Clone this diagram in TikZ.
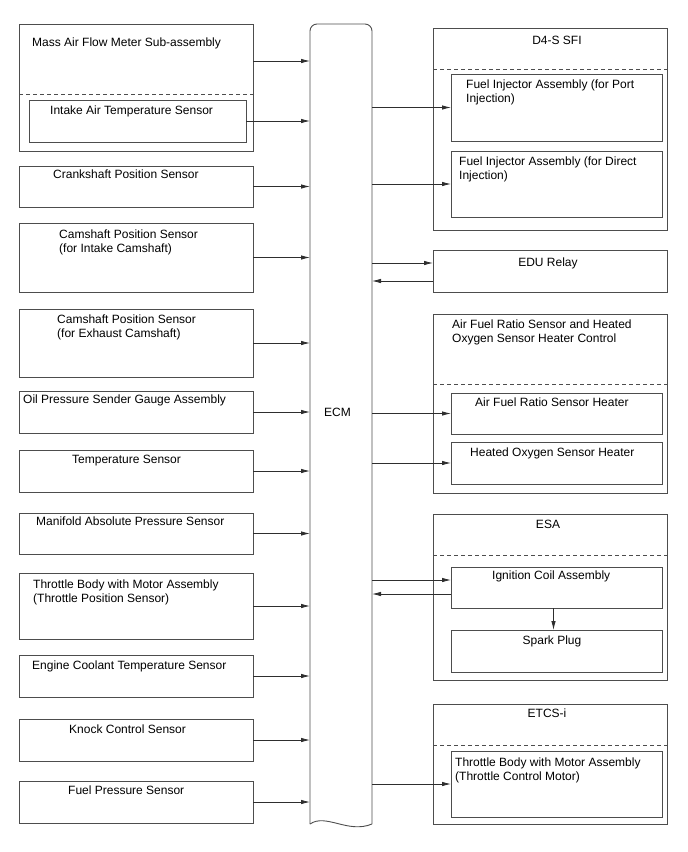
\documentclass[tikz,border=0pt]{standalone}
\usepackage{fontspec}
\setmainfont{Liberation Sans}
\usepackage{xcolor}
\usetikzlibrary{calc,arrows.meta}
\definecolor{FrameGray}{HTML}{4D4D4D}
\definecolor{WireGray}{HTML}{2E2E2E}
\newcommand{\partbox}[5]{%
    \node[partbox, minimum width={(#4-#2)*1pt}, minimum height={(#5-#3)*1pt}]
        (#1) at ({(#2+#4)/2},{(#3+#5)/2}) {};%
}

\begin{document}
\begin{tikzpicture}[x=1pt, y=-1pt,
        partbox/.style={draw=FrameGray, line width=0.9pt, inner sep=0pt, outer sep=0pt},
        partlabel/.style={font=\fontsize{12}{14}\selectfont, inner sep=0pt, align=left, anchor=base west},
        sepline/.style={draw=FrameGray, line width=0.9pt, dash pattern=on 4pt off 3pt},
        sig/.style={draw=WireGray, line width=0.8pt, -{Latex[length=9pt, width=4.5pt]}}]
        \path[use as bounding box] (0,0) rectangle (688,852);

        % ECM
        \node[inner sep=0pt, outer sep=0pt, minimum width=62pt, minimum height=800pt] (ecm) at (341,424) {};
        \draw[draw=FrameGray, line width=0.9pt, rounded corners=7pt] (ecm.south west) -- (ecm.north west) -- (ecm.north east) -- (ecm.south east);
        \draw[draw=FrameGray, line width=0.9pt] (ecm.south east) .. controls +(-24,10) and +(16,-11) .. (ecm.south west);
        \node[partlabel, anchor=base] (ecm-t) at (337.5,416) {ECM};

        % inputs
        \partbox{maf}{19}{24}{253}{151}
        \node[partlabel] (maf-t) at (32,46) {Mass Air Flow Meter Sub-assembly};
        \draw[sepline] (maf.west |- 0,94) -- (maf.east |- 0,94);
        \partbox{iat}{29}{100}{246}{142}
        \node[partlabel] (iat-t) at (50,114.5) {Intake Air Temperature Sensor};
        \coordinate (maf-out) at (253,61);

        \partbox{cks}{19}{166}{253}{207}
        \node[partlabel] (cks-t) at (53,178.5) {Crankshaft Position Sensor};
        \partbox{cmi}{19}{223}{253}{292}
        \node[partlabel] (cmi-t) at (59,252.5) {Camshaft Position Sensor\\(for Intake Camshaft)};
        \partbox{cme}{19}{309}{253}{377}
        \node[partlabel] (cme-t) at (57,337.5) {Camshaft Position Sensor\\(for Exhaust Camshaft)};
        \partbox{ops}{19}{391}{253}{433}
        \node[partlabel] (ops-t) at (23,403.5) {Oil Pressure Sender Gauge Assembly};
        \partbox{tmp}{19}{450}{253}{492}
        \node[partlabel] (tmp-t) at (72,463.5) {Temperature Sensor};
        \partbox{map}{19}{513}{253}{554}
        \node[partlabel] (map-t) at (36,525.5) {Manifold Absolute Pressure Sensor};
        \partbox{tps}{19}{573}{253}{639}
        \node[partlabel] (tps-t) at (33,602.5) {Throttle Body with Motor Assembly\\(Throttle Position Sensor)};
        \partbox{ect}{19}{655}{253}{697}
        \node[partlabel] (ect-t) at (32,669.5) {Engine Coolant Temperature Sensor};
        \partbox{kcs}{19}{719}{253}{761}
        \node[partlabel] (kcs-t) at (69,733.5) {Knock Control Sensor};
        \partbox{fps}{19}{781}{253}{823}
        \node[partlabel] (fps-t) at (68,794.5) {Fuel Pressure Sensor};

        \draw[sig] (maf-out) -- (maf-out -| ecm.west);
        \draw[sig] (iat.east) -- (iat.east -| ecm.west);
        \draw[sig] (cks.east) -- (cks.east -| ecm.west);
        \draw[sig] (cmi.east) -- (cmi.east -| ecm.west);
        \draw[sig] (cme.east) -- (cme.east -| ecm.west);
        \draw[sig] (ops.east) -- (ops.east -| ecm.west);
        \draw[sig] (tmp.east) -- (tmp.east -| ecm.west);
        \draw[sig] (map.east) -- (map.east -| ecm.west);
        \draw[sig] (tps.east) -- (tps.east -| ecm.west);
        \draw[sig] (ect.east) -- (ect.east -| ecm.west);
        \draw[sig] (kcs.east) -- (kcs.east -| ecm.west);
        \draw[sig] (fps.east) -- (fps.east -| ecm.west);

        % outputs
        \partbox{sfi}{433}{28}{667}{230}
        \node[partlabel, anchor=base] (sfi-t) at (557,44) {D4-S SFI};
        \draw[sepline] (sfi.west |- 0,69) -- (sfi.east |- 0,69);
        \partbox{fip}{451}{74}{662}{141}
        \node[partlabel] (fip-t) at (466,102.5) {Fuel Injector Assembly (for Port\\Injection)};
        \partbox{fid}{451}{151}{662}{217}
        \node[partlabel] (fid-t) at (459,179.5) {Fuel Injector Assembly (for Direct\\Injection)};

        \partbox{edu}{433}{250}{667}{292}
        \node[partlabel, anchor=base] (edu-t) at (548,266.5) {EDU Relay};
        \coordinate (edu-in) at ($(edu.west)+(0,-8)$);
        \coordinate (edu-out) at ($(edu.west)+(0,10)$);

        \partbox{afr}{433}{314}{667}{493}
        \node[partlabel] (afr-t) at (452,342.5) {Air Fuel Ratio Sensor and Heated\\Oxygen Sensor Heater Control};
        \draw[sepline] (afr.west |- 0,384) -- (afr.east |- 0,384);
        \partbox{afh}{451}{393}{662}{434}
        \node[partlabel] (afh-t) at (475,406.5) {Air Fuel Ratio Sensor Heater};
        \partbox{ohh}{451}{442}{662}{484}
        \node[partlabel] (ohh-t) at (470,456.5) {Heated Oxygen Sensor Heater};

        \partbox{esa}{433}{514}{667}{680}
        \node[partlabel, anchor=base] (esa-t) at (548,528.5) {ESA};
        \draw[sepline] (esa.west |- 0,555) -- (esa.east |- 0,555);
        \partbox{igc}{451}{567}{662}{608}
        \node[partlabel] (igc-t) at (492,579.5) {Ignition Coil Assembly};
        \partbox{spk}{451}{630}{662}{672}
        \node[partlabel, anchor=base] (spk-t) at (552,644.5) {Spark Plug};
        \coordinate (igc-in) at ($(igc.west)+(0,-7.5)$);
        \coordinate (igc-out) at ($(igc.west)+(0,6.5)$);

        \partbox{etc}{433}{704}{667}{824}
        \node[partlabel, anchor=base] (etc-t) at (547,717.5) {ETCS-i};
        \draw[sepline] (etc.west |- 0,745) -- (etc.east |- 0,745);
        \partbox{tcm}{451}{751}{662}{817}
        \node[partlabel] (tcm-t) at (455,780.5) {Throttle Body with Motor Assembly\\(Throttle Control Motor)};

        \draw[sig] (fip.west -| ecm.east) -- (fip.west);
        \draw[sig] (fid.west -| ecm.east) -- (fid.west);
        \draw[sig] (edu-in -| ecm.east) -- (edu-in);
        \draw[sig] (edu-out) -- (edu-out -| ecm.east);
        \draw[sig] (afh.west -| ecm.east) -- (afh.west);
        \draw[sig] (ohh.west -| ecm.east) -- (ohh.west);
        \draw[sig] (igc-in -| ecm.east) -- (igc-in);
        \draw[sig] (igc-out) -- (igc-out -| ecm.east);
        \draw[sig] ([xshift=-3pt]igc.south) -- ([xshift=-3pt]spk.north);
        \draw[sig] (tcm.west -| ecm.east) -- (tcm.west);
\end{tikzpicture}
\end{document}
